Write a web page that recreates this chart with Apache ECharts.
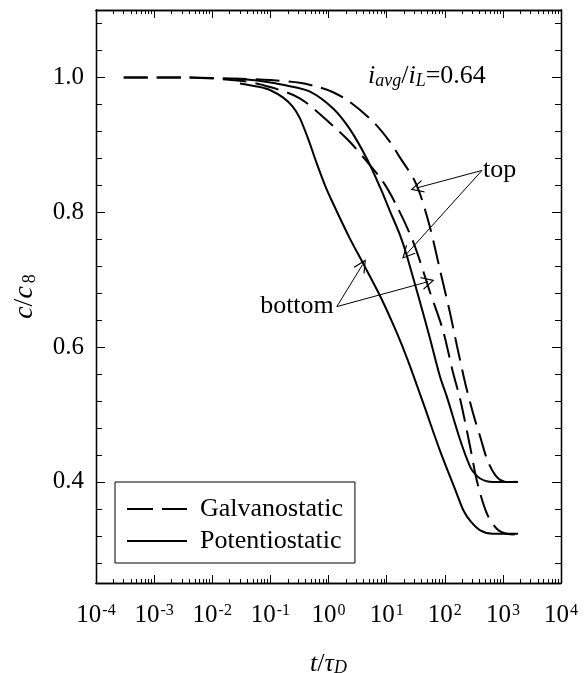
<!DOCTYPE html>
<html>
<head>
<meta charset="utf-8">
<script src="https://cdn.jsdelivr.net/npm/echarts@6/dist/echarts.min.js"></script>
<style>html,body{margin:0;padding:0;background:#fff}#c{width:584px;height:673px}</style>
</head>
<body>
<div id="c"></div>
<script>
// ---- data: [t/tau_D, c/c8] ----
const galvanostaticTop = [[3.0e-4,1.0],[3e-3,1.0],[0.03,0.998],[0.1,0.996],[0.32,0.992],[0.72,0.985],[1.2,0.978],[2.3,0.964],[5.9,0.934],[11.5,0.904],[17,0.881],[29,0.850],[38,0.826],[56,0.777],[83,0.714],[123,0.651],[162,0.602],[224,0.547],[275,0.517],[331,0.492],[407,0.467],[537,0.433],[741,0.410],[1023,0.401],[1820,0.400]];
const galvanostaticBottom = [[3.0e-4,1.0],[3e-3,1.0],[0.03,0.995],[0.087,0.987],[0.32,0.969],[1.2,0.928],[2.3,0.905],[4.6,0.875],[8.7,0.845],[15,0.809],[29,0.755],[56,0.681],[93,0.625],[138,0.563],[186,0.521],[275,0.451],[363,0.399],[537,0.352],[794,0.330],[1175,0.323],[1820,0.322]];
const potentiostaticTop = [[0.025,0.998],[0.063,0.995],[0.19,0.988],[0.48,0.979],[1.2,0.954],[2.3,0.924],[4.6,0.879],[7.8,0.836],[11.5,0.801],[17,0.766],[22,0.737],[38,0.665],[56,0.612],[83,0.556],[110,0.525],[186,0.461],[275,0.422],[331,0.412],[407,0.405],[525,0.401],[676,0.400],[1820,0.400]];
const potentiostaticBottom = [[0.030,0.991],[0.063,0.986],[0.1,0.981],[0.166,0.970],[0.24,0.957],[0.32,0.940],[0.45,0.908],[0.63,0.872],[0.87,0.840],[1.2,0.813],[2.3,0.762],[4.0,0.723],[7.8,0.675],[15,0.621],[23,0.581],[43,0.516],[83,0.446],[162,0.382],[209,0.358],[275,0.342],[407,0.328],[676,0.323],[1820,0.323]];

const xExponents = [-4,-3,-2,-1,0,1,2,3,4];
const yLabelValues = [0.4,0.6,0.8,1.0];
const yMinorStep = 0.04;

// annotation anchors (data space)
const topLabelAt = [437, 0.862];
const topArrowTargets = [[33, 0.836],[22, 0.738]];
const bottomLabelAt = [1.39, 0.660];
const bottomArrowTargets = [[3.84, 0.722],[52, 0.697]];

const FONT = "'Liberation Serif','Times New Roman',serif";
const xMajor = xExponents.map(e => Math.pow(10, e));
const xMinor = [];
for (let e = -4; e < 4; e++) for (let k = 2; k <= 9; k++) xMinor.push(k * Math.pow(10, e));
const yMinor = [];
for (let i = 7; i <= 27; i++) yMinor.push(+(i * yMinorStep).toFixed(2));

const chart = echarts.init(document.getElementById('c'));

function xAx(pos, major, showLabel, showName) {
  return {
    type: 'log', logBase: 10, min: 1e-4, max: 1e4, position: pos,
    splitLine: {show: false},
    axisLine: {show: true, onZero: false, lineStyle: {color: '#000', width: 1.3}},
    axisTick: {show: true, inside: true, length: major ? 8 : 4, lineStyle: {color: '#000', width: 1},
               customValues: major ? xMajor : xMinor},
    axisLabel: {show: showLabel, margin: 20, customValues: xMajor,
      formatter: v => '{b|10}{s|' + Math.round(Math.log10(v)) + '}',
      rich: {b: {fontFamily: FONT, fontSize: 25, color: '#000'},
             s: {fontFamily: FONT, fontSize: 16, color: '#000', verticalAlign: 'top', padding: [0,0,6,1]}}},
    name: showName ? '{i|t}{n|/}{i|τ}{sub|D}' : '',
    nameLocation: 'middle', nameGap: 68, nameMoveOverlap: false,
    nameTextStyle: {rich: {i: {fontFamily: FONT, fontSize: 26, fontStyle: 'italic', color: '#000'},
                           n: {fontFamily: FONT, fontSize: 26, color: '#000'},
                           sub: {fontFamily: FONT, fontSize: 18, fontStyle: 'italic', color: '#000', verticalAlign: 'bottom', padding: [8,0,0,0]}}}
  };
}
function yAx(pos, major, showLabel, showName) {
  return {
    type: 'value', min: 0.25, max: 1.1, position: pos,
    splitLine: {show: false},
    axisLine: {show: true, onZero: false, lineStyle: {color: '#000', width: 1.3}},
    axisTick: {show: true, inside: true, length: major ? 9 : 6, lineStyle: {color: '#000', width: 1},
               customValues: major ? yLabelValues : yMinor},
    axisLabel: {show: showLabel, margin: 12, customValues: yLabelValues,
      formatter: v => v.toFixed(1), fontFamily: FONT, fontSize: 25, color: '#000'},
    name: showName ? '{i|c}{n|/}{i|c}{sub|8}' : '',
    nameLocation: 'middle', nameGap: 57, nameMoveOverlap: false,
    nameTextStyle: {rich: {i: {fontFamily: FONT, fontSize: 28, fontStyle: 'italic', color: '#000'},
                           n: {fontFamily: FONT, fontSize: 28, color: '#000'},
                           sub: {fontFamily: FONT, fontSize: 18, color: '#000', verticalAlign: 'bottom', padding: [11,0,0,3]}}}
  };
}

const arrowPath = 'path://M50,0 L100,100 L90,100 L50,20 L10,100 L0,100 Z';
function arrows(from, targets) {
  return targets.map(t => [{coord: from}, {coord: t}]);
}

const lineBase = {type: 'line', symbol: 'none', showSymbol: false, smooth: 0.3,
                  xAxisIndex: 0, yAxisIndex: 0, z: 3};
const dash = [24, 9];

chart.setOption({
  animation: false,
  backgroundColor: '#fff',
  grid: {left: 96, right: 23, top: 10, bottom: 90, containLabel: false, outerBoundsMode: 'none'},
  xAxis: [xAx('bottom', true, true, true), xAx('bottom', false, false, false),
          xAx('top', true, false, false), xAx('top', false, false, false)],
  yAxis: [yAx('left', true, true, true), yAx('left', false, false, false),
          yAx('right', true, false, false), yAx('right', false, false, false)],
  legend: {
    data: [
      {name: 'Galvanostatic', icon: 'path://M0,0H26V2H0Z M35,0H60V2H35Z'},
      {name: 'Potentiostatic', icon: 'path://M0,0H60V2H0Z'}
    ],
    orient: 'vertical', left: 115, top: 482,
    itemWidth: 60, itemHeight: 2, itemGap: 6, padding: [14, 12, 9, 12], symbolKeepAspect: false,
    borderColor: '#000', borderWidth: 1, selectedMode: false,
    itemStyle: {color: '#000', borderWidth: 0},
    textStyle: {fontFamily: FONT, fontSize: 26, color: '#000', padding: [0, 0, 0, 8], lineHeight: 24}
  },
  graphic: [{
    type: 'text', left: 368, top: 63,
    style: {
      text: '{i|i}{sub|avg}{n|/}{i|i}{sub|L}{n|=0.64}',
      rich: {i: {fontFamily: FONT, fontSize: 26, fontStyle: 'italic', fill: '#000'},
             n: {fontFamily: FONT, fontSize: 26, fill: '#000'},
             sub: {fontFamily: FONT, fontSize: 18, fontStyle: 'italic', fill: '#000', verticalAlign: 'bottom', padding: [10,0,0,0]}}
    }
  }],
  series: [
    Object.assign({}, lineBase, {name: 'Galvanostatic', data: galvanostaticTop,
      lineStyle: {color: '#000', width: 2, type: dash}, itemStyle: {color: '#000'},
      markLine: {silent: true, symbol: ['none', arrowPath], symbolSize: 13, animation: false,
        label: {show: false}, lineStyle: {color: '#000', width: 1, type: 'solid'},
        emphasis: {disabled: true},
        data: arrows(topLabelAt, topArrowTargets).concat(arrows(bottomLabelAt, bottomArrowTargets))},
      markPoint: {silent: true, symbol: 'circle', symbolSize: 0, animation: false,
        data: [
          {coord: topLabelAt, label: {show: true, formatter: 'top', position: 'right', distance: 1,
            fontFamily: FONT, fontSize: 26, color: '#000'}},
          {coord: bottomLabelAt, label: {show: true, formatter: 'bottom', position: 'left', distance: 3,
            fontFamily: FONT, fontSize: 26, color: '#000'}}
        ]}
    }),
    Object.assign({}, lineBase, {name: 'Galvanostatic', data: galvanostaticBottom,
      lineStyle: {color: '#000', width: 2, type: dash}, itemStyle: {color: '#000'}}),
    Object.assign({}, lineBase, {name: 'Potentiostatic', data: potentiostaticTop,
      lineStyle: {color: '#000', width: 2, type: 'solid'}, itemStyle: {color: '#000'}}),
    Object.assign({}, lineBase, {name: 'Potentiostatic', data: potentiostaticBottom,
      lineStyle: {color: '#000', width: 2, type: 'solid'}, itemStyle: {color: '#000'}})
  ]
});
</script>
</body>
</html>
